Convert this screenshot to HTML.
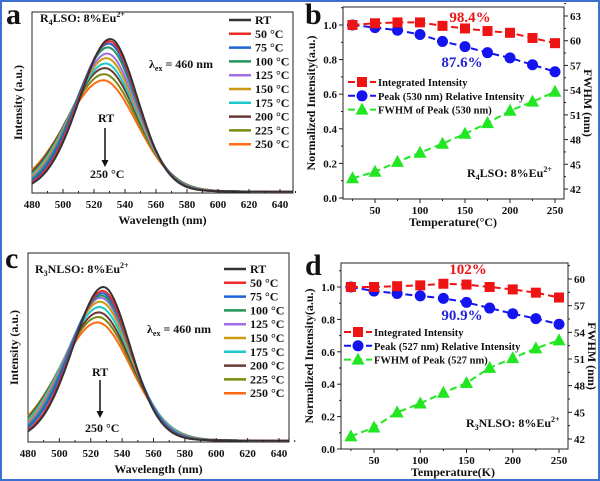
<!DOCTYPE html>
<html><head><meta charset="utf-8"><style>
html,body{margin:0;padding:0;background:#fff}
#wrap{position:relative;width:600px;height:481px;box-sizing:border-box;border:2px solid #3d6fd2;overflow:hidden}
svg{position:absolute;left:-2px;top:-2px}
text{font-family:"Liberation Serif",serif;font-weight:bold;fill:#111}
</style></head><body>
<div id="wrap">
<svg id="s" width="600" height="481"></svg>
</div>
<script>
// ---- data ----
const temps=[25,50,75,100,125,150,175,200,225,250];
const legendLabels=["RT","50 °C","75 °C","100 °C","125 °C","150 °C","175 °C","200 °C","225 °C","250 °C"];
const colors=["#333333","#ee2b2b","#1f63d8","#21955b","#a16ee6","#cc9a10","#1cc8c8","#6b3a36","#7a8a12","#ff6a14"];
const bInteg=[1.0,1.01,1.015,1.015,0.995,0.98,0.965,0.955,0.925,0.895];
const bPeak=[1.0,0.985,0.97,0.945,0.905,0.875,0.84,0.81,0.77,0.73];
const bFwhm=[43.3,44.1,45.3,46.4,47.5,48.7,50.0,51.5,52.6,53.8];
const dInteg=[1.0,1.0,1.005,1.01,1.02,1.015,1.0,0.985,0.965,0.935];
const dPeak=[1.0,0.975,0.96,0.945,0.93,0.905,0.87,0.835,0.805,0.77];
const dFwhm=[42.3,43.3,45.0,46.0,47.2,48.3,50.0,51.1,52.2,53.1];
const aPeakWl=[530.5,530,529.5,529,528.5,528,527.5,527,526.5,526];
const cPeakWl=[528,527.6,527.2,526.8,526.4,526,525.6,525.2,524.8,524.4];
const xTicksSpec=[480,500,520,540,560,580,600,620,640];
const xTicksTemp=[50,100,150,200,250];
const yTicksLeft=[0,0.2,0.4,0.6,0.8,1.0];
const bRightTicks=[42,45,48,51,54,57,60,63];
const dRightTicks=[42,45,48,51,54,57,60];

const S=document.getElementById('s');const NS="http://www.w3.org/2000/svg";
function el(t,a,p){const e=document.createElementNS(NS,t);for(const k in a)e.setAttribute(k,a[k]);(p||S).appendChild(e);return e;}
function txt(x,y,s,a,name){const e=el('text',Object.assign({x:x,y:y,'font-size':12},a||{}));e.innerHTML=s;

return e;}
function lin(a,b){return v=>a[1]+(v-a[0])*(b[1]-a[1])/(b[0]-a[0]);}

function spectrum(P){
 const g=el('g',{});
 
 
 const X=lin([480,P.x0],[640,P.x640]);const Y=v=>P.base-v*P.h;
 el('rect',{x:P.L,y:P.T,width:P.R-P.L,height:P.B-P.T,fill:'none',stroke:'#222','stroke-width':1},g);
 const wmax=480+(P.R-P.x0)/(P.x640-P.x0)*160;
 for(let i=colors.length-1;i>=0;i--){
  const pk=P.wl[i],hgt=P.peaks[i],fw=P.fw[i];
  const hl=fw*0.56,hr=fw*0.5;
  let d="";
  for(let w=480;w<=wmax;w+=1){
   const hw=w<pk?hl:hr;const z=(w-pk)/hw;
   const v=hgt*(0.9*Math.exp(-0.693*z*z)+0.1/(1+z*z*2));
   d+=(w==480?"M":"L")+X(w).toFixed(1)+","+Y(v).toFixed(1);
  }
  const p=el('path',{d:d,fill:'none',stroke:colors[i],'stroke-width':2},g);
  
  
 }
 xTicksSpec.forEach(t=>{el('line',{x1:X(t),x2:X(t),y1:P.B,y2:P.B-4,stroke:'#222'},g);
  el('line',{x1:X(t+10),x2:X(t+10),y1:P.B,y2:P.B-2,stroke:'#222'},g);
  txt(X(t),P.B+15,t,{'text-anchor':'middle','font-size':11},'x-tick-label');});
 txt((P.L+P.R)/2,P.B+31,'Wavelength (nm)',{'text-anchor':'middle','font-size':12},'x-axis-title');
 txt(0,0,'Intensity (a.u.)',{'text-anchor':'middle',transform:`translate(${P.L-10},${(P.T+P.B)/2}) rotate(-90)`,'font-size':12},'y-axis-title');
 legendLabels.forEach((l,i)=>{const y=P.legY+i*13.8;
  const ln=el('line',{x1:P.legX,x2:P.legX+22,y1:y-4,y2:y-4,stroke:colors[i],'stroke-width':2.5},g);
  
  txt(P.legX+26,y,l,{'font-size':12},'legend-entry');});
}
spectrum({name:'panel-a-spectra',L:32,R:293,T:12,B:193,base:192,h:153,x0:32,x640:280,wl:aPeakWl,peaks:bPeak,fw:bFwhm,legX:229,legY:24});
spectrum({name:'panel-c-spectra',L:28,R:289,T:253,B:442,base:441,h:154,x0:28,x640:279,wl:cPeakWl,peaks:dPeak,fw:dFwhm,legX:224,legY:273});

function arrow(x,y1,y2){el('line',{x1:x,x2:x,y1:y1,y2:y2-6,stroke:'#111','stroke-width':1.5});el('path',{d:`M${x-3.5},${y2-7}L${x+3.5},${y2-7}L${x},${y2}Z`,fill:'#111'});}
txt(6,24,'a',{'font-size':30},'panel-label-a');
txt(40,22,'R<tspan font-size="8" dy="3">4</tspan><tspan dy="-3">LSO: 8%Eu</tspan><tspan font-size="8" dy="-5">2+</tspan>',{'font-size':12},'sample-label');
txt(149,68,'λ<tspan font-size="8" dy="3">ex</tspan><tspan dy="-3"> = 460 nm</tspan>',{'font-size':12},'excitation-label');
txt(98,122,'RT',{'font-size':12},'arrow-start-label');arrow(105,128,167);txt(90,178,'250 °C',{'font-size':12},'arrow-end-label');
txt(5,268,'c',{'font-size':30},'panel-label-c');
txt(35,273,'R<tspan font-size="8" dy="3">3</tspan><tspan dy="-3">NLSO: 8%Eu</tspan><tspan font-size="8" dy="-5">2+</tspan>',{'font-size':12},'sample-label');
txt(147,333,'λ<tspan font-size="8" dy="3">ex</tspan><tspan dy="-3"> = 460 nm</tspan>',{'font-size':12},'excitation-label');
txt(92,376,'RT',{'font-size':12},'arrow-start-label');arrow(100,380,418);txt(85,432,'250 °C',{'font-size':12},'arrow-end-label');

function thermal(P){
 const g=el('g',{});
 
 
 const X=lin([50,P.x50],[250,P.x250]);const Y=lin([0,P.y0],[1,P.y1]);const YR=lin([42,P.r42],[P.rTop,P.rTopY]);
 el('rect',{x:P.L,y:P.T,width:P.R-P.L,height:P.B-P.T,fill:'none',stroke:'#222'},g);
 xTicksTemp.forEach(t=>{el('line',{x1:X(t),x2:X(t),y1:P.B,y2:P.B+4,stroke:'#222'},g);el('line',{x1:X(t-25),x2:X(t-25),y1:P.B,y2:P.B+2,stroke:'#222'},g);
  txt(X(t),P.B+15,t,{'text-anchor':'middle','font-size':11},'x-tick-label');});
 yTicksLeft.forEach(t=>{el('line',{x1:P.L,x2:P.L-4,y1:Y(t),y2:Y(t),stroke:'#222'},g);el('line',{x1:P.L,x2:P.L-2,y1:Y(t+0.1),y2:Y(t+0.1),stroke:'#222'},g);
  txt(P.L-6,Y(t)+4,t.toFixed(1),{'text-anchor':'end','font-size':11},'y-tick-label');});
 P.rt.forEach(t=>{el('line',{x1:P.R,x2:P.R+4,y1:YR(t),y2:YR(t),stroke:'#222'},g);el('line',{x1:P.R,x2:P.R+2,y1:YR(t+1.5),y2:YR(t+1.5),stroke:'#222'},g);
  txt(P.R+6,YR(t)+4,t,{'font-size':11},'right-tick-label');});
 txt(P.xTitleX,P.B+27,P.xTitle,{'text-anchor':'middle','font-size':12},'x-axis-title');
 txt(0,0,'Normalized Intensity(a.u.)',{'text-anchor':'middle',transform:`translate(${P.L-28},${(P.T+P.B)/2}) rotate(-90)`,'font-size':12},'y-axis-title');
 txt(0,0,'FWHM (nm)',{'text-anchor':'middle',transform:`translate(${P.R+20},${(P.T+P.B)/2}) rotate(90)`,'font-size':12},'right-axis-title');
 function series(vals,fy,col,shape,nm){
  const d=vals.map((v,i)=>(i?'L':'M')+X(temps[i])+','+fy(v)).join('');
  const p=el('path',{d:d,fill:'none',stroke:col,'stroke-width':2,'stroke-dasharray':'7 4'},g);
  
  vals.forEach((v,i)=>{const m=mark(X(temps[i]),fy(v),col,shape,g);});
 }
 function mark(x,y,col,shape,pg){
  if(shape=='sq')return el('rect',{x:x-5,y:y-5,width:10,height:10,fill:col},pg);
  if(shape=='ci')return el('circle',{cx:x,cy:y,r:5.5,fill:col},pg);
  return el('path',{d:`M${x},${y-7}L${x+6.5},${y+5}L${x-6.5},${y+5}Z`,fill:col},pg);
 }
 series(P.fw,YR,'#22e622','tr','fwhm');
 series(P.pk,Y,'#1414f0','ci','peak-intensity');
 series(P.ig,Y,'#ee1414','sq','integrated-intensity');
 const items=[['#ee1414','sq','Integrated Intensity'],['#1414f0','ci',`Peak (${P.nm} nm) Relative Intensity`],['#22e622','tr',`FWHM of Peak (${P.nm} nm)`]];
 items.forEach((it,i)=>{const y=P.legY+i*13.8;
  el('line',{x1:P.legX,x2:P.legX+28,y1:y-4,y2:y-4,stroke:it[0],'stroke-width':2,'stroke-dasharray':'7 4'},g);
  const m=mark(P.legX+14,y-4,it[0],it[1],g);
  txt(P.legX+30,y,it[2],{'font-size':10.5},'legend-entry');});
}
thermal({name:'panel-b-thermal',L:343,R:564,T:7,B:199,x50:375,x250:555,y0:198,y1:25,r42:189,rTop:63,rTopY:16,rt:bRightTicks,ig:bInteg,pk:bPeak,fw:bFwhm,nm:530,legX:348,legY:86,xTitle:'Temperature(°C)',xTitleX:453});
thermal({name:'panel-d-thermal',L:341,R:568,T:263,B:449,x50:374,x250:559,y0:449,y1:287,r42:439,rTop:60,rTopY:279,rt:dRightTicks,ig:dInteg,pk:dPeak,fw:dFwhm,nm:527,legX:344,legY:336,xTitle:'Temperature(K)',xTitleX:453});
txt(305,24,'b',{'font-size':30},'panel-label-b');
txt(305,275,'d',{'font-size':30},'panel-label-d');
txt(470,22,'98.4%',{'text-anchor':'middle','font-size':15,style:'fill:#ee1414'},'integrated-retention-label');
txt(462,67,'87.6%',{'text-anchor':'middle','font-size':15,style:'fill:#2525d8'},'peak-retention-label');
txt(468,274,'102%',{'text-anchor':'middle','font-size':15,style:'fill:#ee1414'},'integrated-retention-label');
txt(462,320,'90.9%',{'text-anchor':'middle','font-size':15,style:'fill:#2525d8'},'peak-retention-label');
txt(467,177,'R<tspan font-size="8" dy="3">4</tspan><tspan dy="-3">LSO: 8%Eu</tspan><tspan font-size="8" dy="-5">2+</tspan>',{'font-size':12},'sample-label');
txt(466,427,'R<tspan font-size="8" dy="3">3</tspan><tspan dy="-3">NLSO: 8%Eu</tspan><tspan font-size="8" dy="-5">2+</tspan>',{'font-size':12},'sample-label');
</script>
</body></html>
